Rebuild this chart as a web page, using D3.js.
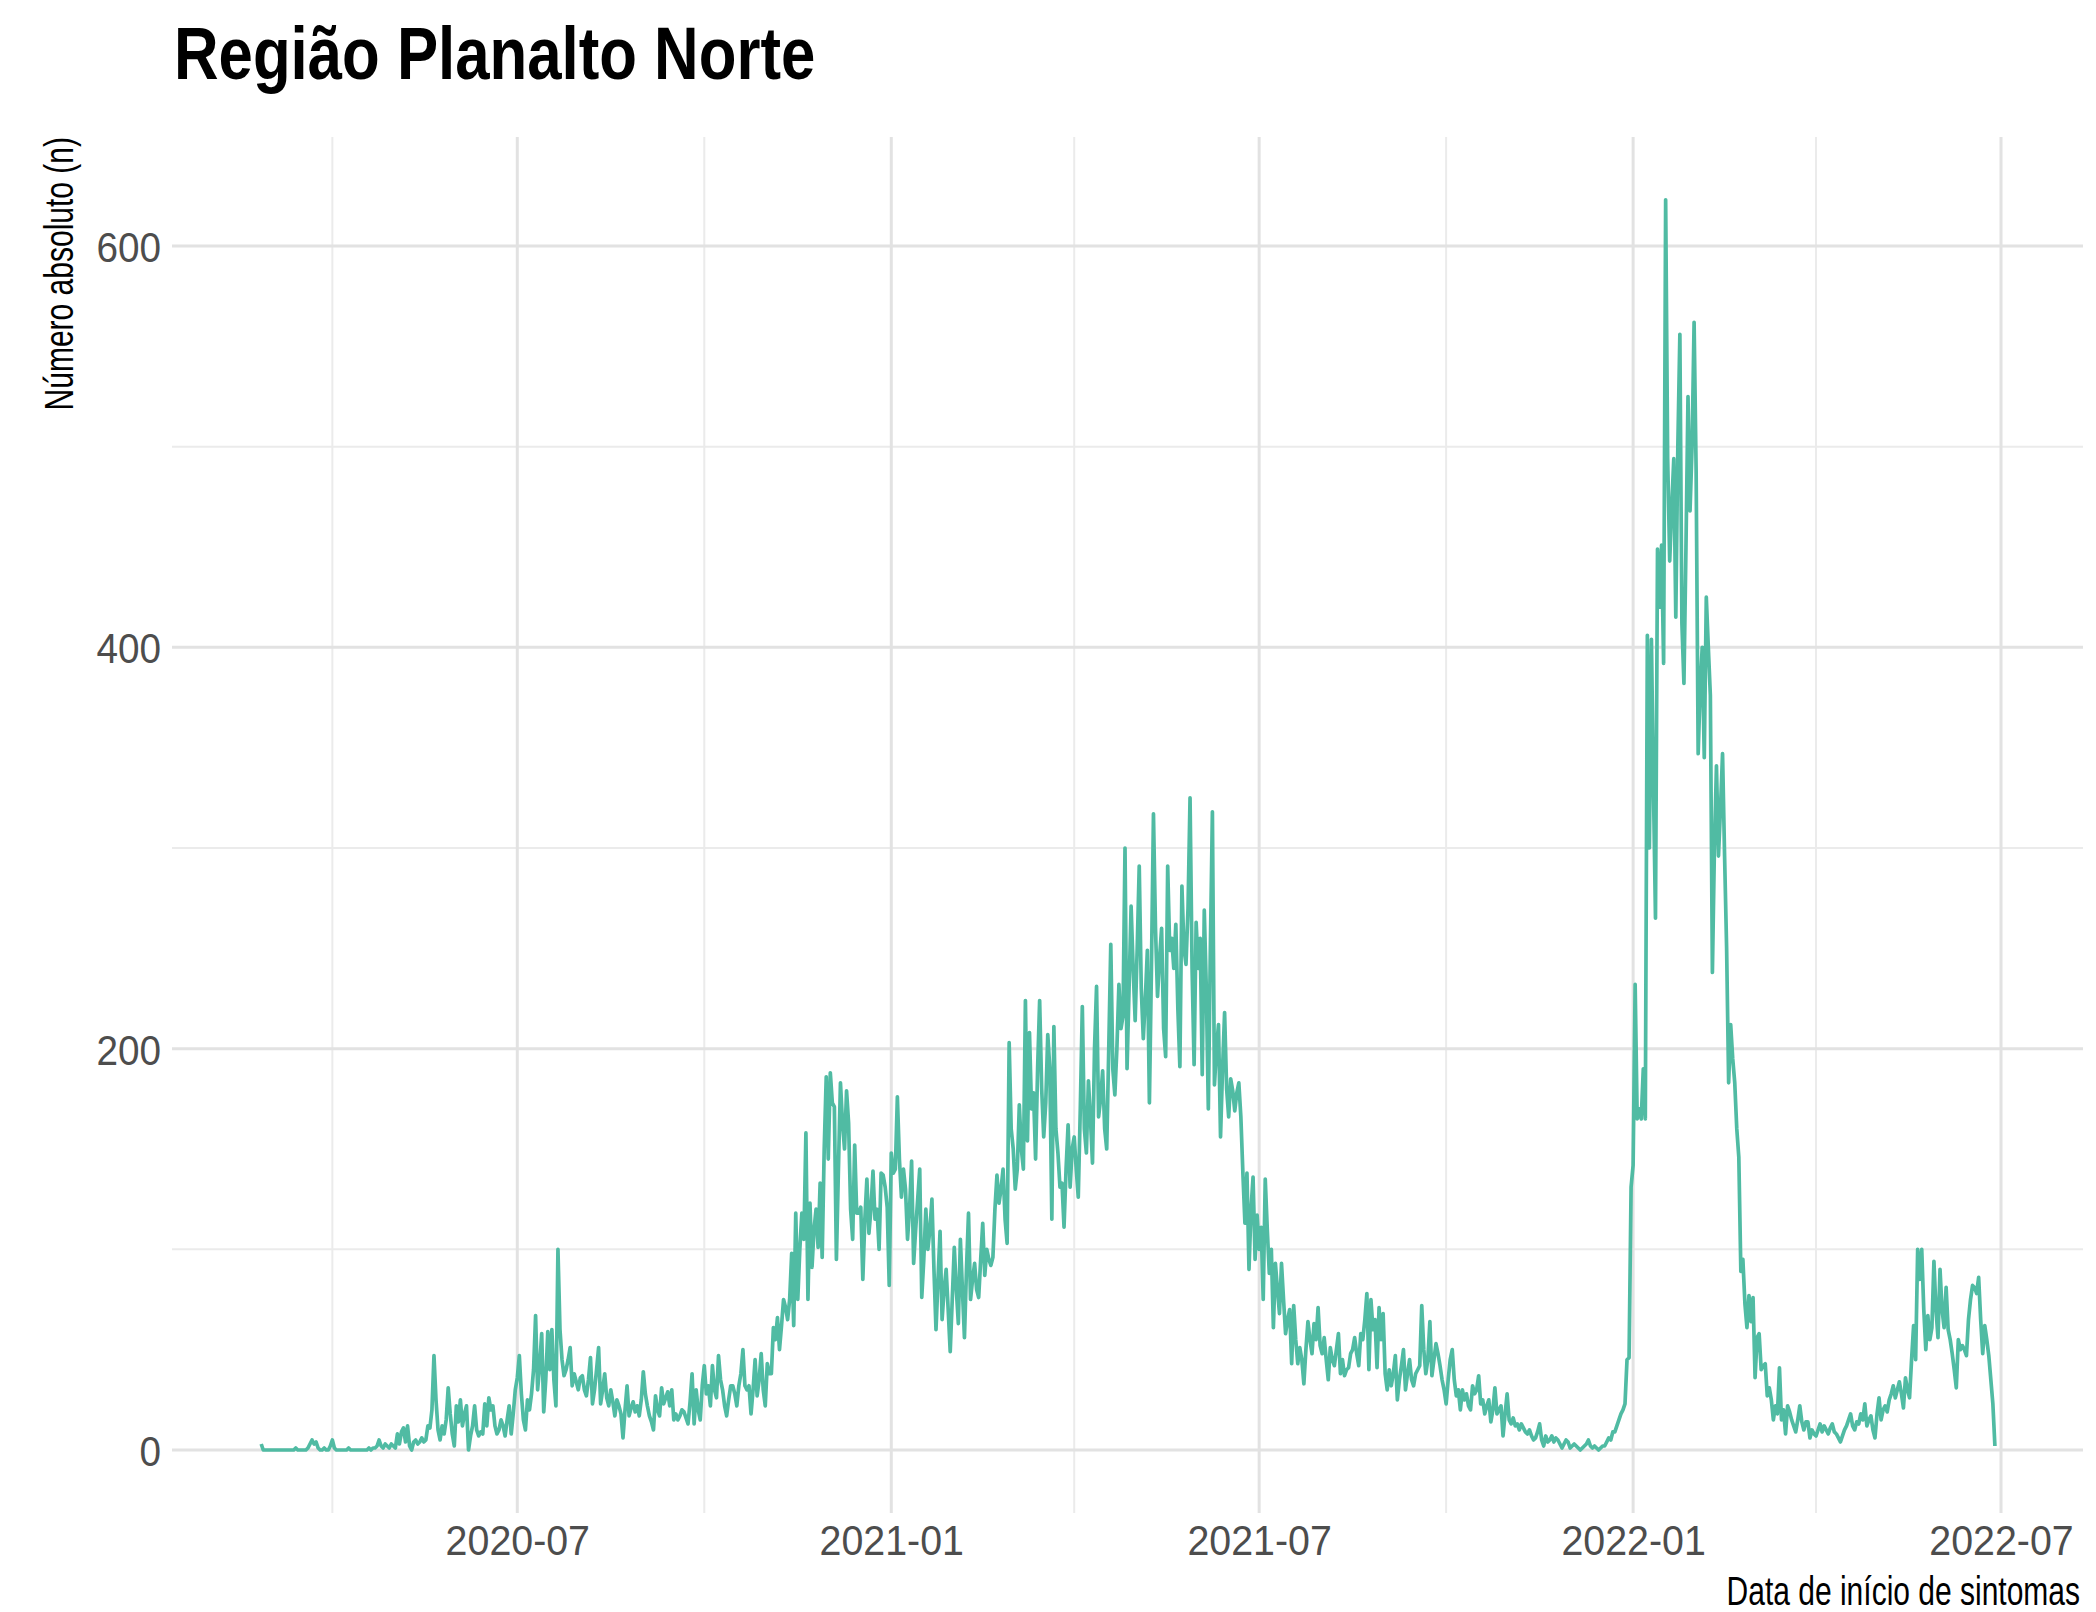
<!DOCTYPE html>
<html><head><meta charset="utf-8">
<script src="https://cdn.jsdelivr.net/npm/d3@7"></script>
<style>
body{margin:0;background:#fff;}
svg{display:block;font-family:"Liberation Sans",Arial,sans-serif;}
</style>
</head><body>
<svg id="chart" width="2096" height="1612"></svg>
<script>
// ---------------- DATA ----------------
const startDate = "2020-02-26"; // first day of the daily series

// daily counts, 2020-02-26 .. 2020-12-31
const values2020 = [
3,0,0,0,0,0,0,0,0,0,
0,0,0,0,0,0,0,1,0,0,
0,0,0,1,3,5,3,4,1,0,
0,1,0,0,2,5,1,0,0,0,
0,0,0,1,0,0,0,0,0,0,
0,0,0,1,0,1,1,2,5,2,
1,3,2,1,3,2,1,8,3,9,
11,4,12,2,0,4,5,3,4,6,
4,5,12,11,20,47,25,10,5,12,
8,15,31,18,8,2,22,14,25,12,
18,22,0,7,12,22,10,7,9,8,
23,12,26,20,22,12,8,10,15,12,
7,15,22,8,18,30,36,47,28,15,
10,25,20,28,40,67,30,42,58,19,
35,59,40,60,35,22,100,60,45,37,
40,45,51,32,38,34,30,36,37,30,
27,35,46,23,30,40,51,23,30,38,
26,22,30,24,17,25,22,18,6,20,
32,17,21,24,19,22,17,25,39,28,
22,17,14,10,27,20,17,31,23,26,
29,22,30,15,18,15,17,20,19,16,
13,24,38,13,30,20,15,32,42,28,
32,22,42,30,26,47,35,30,22,17,
25,32,32,28,22,32,38,50,32,30,
32,18,30,45,27,35,48,30,22,43,
38,38,61,55,66,50,62,75,71,65,
75,98,62,118,75,100,118,105,158,75,
123,91,110,120,101,133,96,150,186,145,
188,173,171,95,140,183,163,150,179,163,
120,105,152,118,118,121,85,115,135,108,
120,139,115,120,100,138,137,131,121,82
];

// daily counts, 2021-01-01 .. 2021-12-31
const values2021 = [
148,138,140,176,145,126,140,130,105,120,
144,93,110,125,140,76,95,120,100,110,
125,90,60,85,109,65,80,90,70,49,
75,101,80,63,105,80,56,90,118,75,
85,93,80,76,95,113,87,100,95,92,
96,120,137,123,130,140,115,103,203,160,
150,130,140,172,150,140,224,154,208,170,
178,145,190,224,180,156,173,207,190,115,
211,160,148,131,133,111,140,162,131,150,
156,140,126,170,221,160,148,184,165,143,
200,231,166,175,189,160,150,200,252,190,
177,200,232,210,216,300,190,230,271,240,
214,250,291,230,205,225,249,173,240,317,
260,226,245,260,210,196,291,249,255,240,
262,220,191,281,250,242,270,325,240,192,
263,240,255,187,269,230,170,250,318,182,
200,212,156,190,218,180,166,185,179,169,
178,183,166,138,113,138,90,120,136,95,
117,100,111,75,135,110,88,100,61,93,
80,68,93,75,58,65,70,43,72,55,
43,51,45,33,50,64,55,48,63,55,
71,52,48,56,45,35,51,45,42,50,
58,38,45,37,40,41,48,50,56,48,
42,58,55,65,78,40,75,60,65,41,
71,55,68,38,30,40,32,38,47,25,
35,42,50,30,38,45,35,32,38,40,
42,72,50,38,45,64,37,45,53,48,
42,35,30,23,35,45,50,35,27,30,
20,30,25,28,22,20,32,28,30,37,
23,25,18,22,25,14,20,31,18,20,
22,7,18,28,15,13,16,12,13,10,
13,11,9,8,10,7,5,6,9,13,
5,2,7,4,5,7,4,6,5,3,
1,3,5,4,1,2,3,2,1,0,
1,2,3,5,2,1,2,1,0,1,
2,2,4,6,5,9,9,12,15,18,
20,23,45,46,131
];

// daily counts, 2022-01-01 .. 2022-06-28
const values2022 = [
142,232,165,170,165,190,165,406,300,404,
330,265,449,420,451,392,623,494,443,470,
494,415,500,556,412,382,450,525,468,500,
562,488,347,380,400,345,425,400,376,238,
300,341,296,320,347,296,250,183,212,195,
183,160,146,89,95,73,61,77,64,76,
36,56,58,40,42,43,27,31,25,15,
22,18,41,15,20,8,22,19,15,12,
9,15,22,14,10,14,14,6,10,8,
7,10,13,9,12,10,8,11,13,9,
8,6,4,7,10,12,15,18,12,10,
14,13,18,15,23,12,15,17,10,6,
18,26,15,20,22,19,25,28,32,26,
30,34,28,21,36,30,26,45,62,45,
100,85,100,70,50,67,55,61,94,70,
56,90,70,61,81,60,55,48,40,31,
55,50,52,50,47,65,75,82,81,78,
86,65,48,62,55,47,35,23,2
];

const xTickLabels = ["2020-07","2021-01","2021-07","2022-01","2022-07"];
const xMinorTicks = ["2020-04","2020-10","2021-04","2021-10","2022-04"];
const yTicks = [0,200,400,600];
const yMinorTicks = [100,300,500];
const titleText = "Região Planalto Norte";
const yTitleText = "Número absoluto (n)";
const xTitleText = "Data de início de sintomas";

// ---------------- CHART ----------------
const svg = d3.select("#chart");
const W = 2096, H = 1612;
const panel = {left:172, right:2083, top:137, bottom:1513};
const lineColor = "#50BBA3";

const parseDay = d3.utcParse("%Y-%m-%d");
const parseMonth = d3.utcParse("%Y-%m");
const start = parseDay(startDate);
const allValues = values2020.concat(values2021, values2022);
const data = allValues.map((v,i)=>({date:d3.utcDay.offset(start,i), value:v}));

const x = d3.scaleUtc()
  .domain([parseMonth("2020-07"), parseMonth("2022-07")])
  .range([517.3, 2001]);
const y = d3.scaleLinear().domain([0,600]).range([1450,246]);

svg.append("rect").attr("width",W).attr("height",H).attr("fill","#fff");

// gridlines
const grid = svg.append("g");
grid.selectAll("line.ymin").data(yMinorTicks).join("line")
  .attr("x1",panel.left).attr("x2",panel.right)
  .attr("y1",d=>y(d)).attr("y2",d=>y(d))
  .attr("stroke","#EBEBEB").attr("stroke-width",2);
grid.selectAll("line.xmin").data(xMinorTicks.map(parseMonth)).join("line")
  .attr("x1",d=>x(d)).attr("x2",d=>x(d))
  .attr("y1",panel.top).attr("y2",panel.bottom)
  .attr("stroke","#EBEBEB").attr("stroke-width",2);
grid.selectAll("line.ymaj").data(yTicks).join("line")
  .attr("x1",panel.left).attr("x2",panel.right)
  .attr("y1",d=>y(d)).attr("y2",d=>y(d))
  .attr("stroke","#E2E2E2").attr("stroke-width",3);
grid.selectAll("line.xmaj").data(xTickLabels.map(parseMonth)).join("line")
  .attr("x1",d=>x(d)).attr("x2",d=>x(d))
  .attr("y1",panel.top).attr("y2",panel.bottom)
  .attr("stroke","#E2E2E2").attr("stroke-width",3);

// line
const line = d3.line().x(d=>x(d.date)).y(d=>y(d.value)).curve(d3.curveLinear);
svg.append("path").datum(data)
  .attr("d",line)
  .attr("fill","none")
  .attr("stroke",lineColor)
  .attr("stroke-width",3.7)
  .attr("stroke-linejoin","round");

function squish(sel, f){
  sel.each(function(){
    const w = this.getComputedTextLength();
    d3.select(this).attr("textLength", w*f).attr("lengthAdjust","spacingAndGlyphs");
  });
}

// x axis
const gx = svg.append("g").attr("transform",`translate(0,${panel.bottom})`)
  .call(d3.axisBottom(x).tickValues(xTickLabels.map(parseMonth))
    .tickFormat(d3.utcFormat("%Y-%m")).tickSize(0).tickPadding(11));
gx.select(".domain").remove();
gx.selectAll("text").attr("font-size",43).attr("fill","#4D4D4D")
  .attr("font-family","Liberation Sans, Arial, sans-serif");
squish(gx.selectAll("text"), 0.915);

// y axis
const gy = svg.append("g").attr("transform",`translate(${panel.left},0)`)
  .call(d3.axisLeft(y).tickValues(yTicks).tickSize(0).tickPadding(11));
gy.select(".domain").remove();
gy.selectAll("text").attr("font-size",43).attr("fill","#4D4D4D").attr("dy","0.36em")
  .attr("font-family","Liberation Sans, Arial, sans-serif");
squish(gy.selectAll("text"), 0.9);

// title
const t = svg.append("text").attr("x",174).attr("y",79)
  .attr("font-size",74).attr("font-weight","bold").attr("fill","#000")
  .text(titleText);
squish(t, 0.834);

// y title
const yt = svg.append("text")
  .attr("transform",`translate(73,${panel.top}) rotate(-90)`)
  .attr("text-anchor","end").attr("font-size",40).attr("fill","#000")
  .text(yTitleText);
squish(yt, 0.75);

// x title (condensed with a scale transform)
svg.append("g")
  .attr("transform",`translate(${panel.right - 3},1605) scale(0.75,1)`)
  .append("text")
  .attr("x",0).attr("y",0)
  .attr("text-anchor","end").attr("font-size",40).attr("fill","#000")
  .text(xTitleText);
</script>
</body></html>
